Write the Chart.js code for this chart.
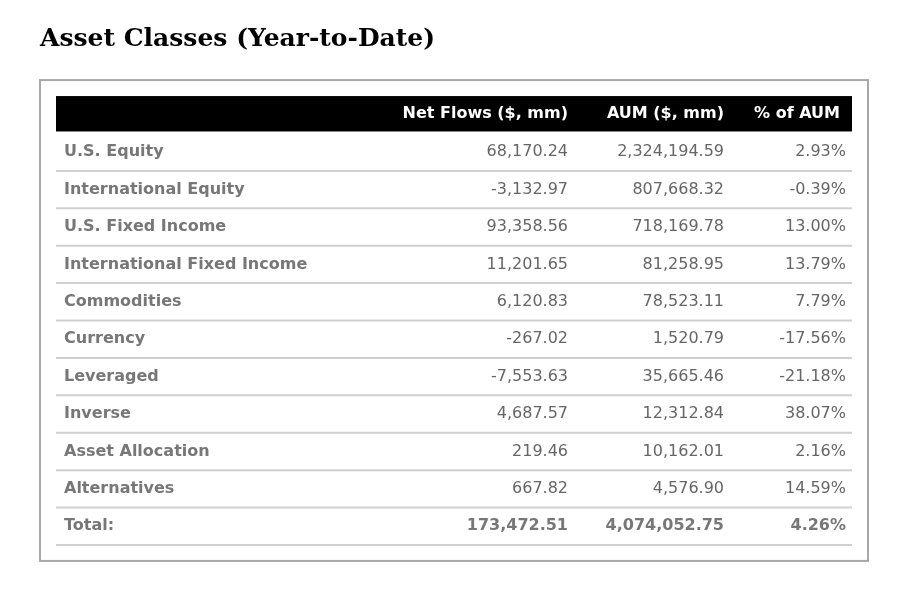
<!DOCTYPE html>
<html><head><meta charset="utf-8">
<script src="https://cdn.jsdelivr.net/npm/chart.js@4"></script>
<style>html,body{margin:0;padding:0;background:#fff}</style>
</head><body>
<canvas id="c" width="918" height="616"></canvas>
<script>
const headers = ["Net Flows ($, mm)", "AUM ($, mm)", "% of AUM"];
const categories = ["U.S. Equity","International Equity","U.S. Fixed Income","International Fixed Income","Commodities","Currency","Leveraged","Inverse","Asset Allocation","Alternatives","Total:"];
const netFlows = ["68,170.24","-3,132.97","93,358.56","11,201.65","6,120.83","-267.02","-7,553.63","4,687.57","219.46","667.82","173,472.51"];
const aum = ["2,324,194.59","807,668.32","718,169.78","81,258.95","78,523.11","1,520.79","35,665.46","12,312.84","10,162.01","4,576.90","4,074,052.75"];
const pctAum = ["2.93%","-0.39%","13.00%","13.79%","7.79%","-17.56%","-21.18%","38.07%","2.16%","14.59%","4.26%"];
const titleText = "Asset Classes (Year-to-Date)";

const F = "'DejaVu Sans', Verdana, sans-serif";
const tablePlugin = {
  id: 'table',
  afterDraw(chart) {
    const ctx = chart.ctx, a = chart.chartArea, y = chart.scales.y;
    ctx.save();
    ctx.fillStyle = '#000'; ctx.font = "bold 25px 'DejaVu Serif', Georgia, serif";
    ctx.textBaseline = 'middle'; ctx.textAlign = 'left';
    ctx.fillText(titleText, 40, 39);
    const rowH = Math.abs(y.getPixelForValue(1) - y.getPixelForValue(0));
    const top = y.getPixelForValue(-0.5), bottom = y.getPixelForValue(11.5);
    ctx.strokeStyle = '#a8a8a8'; ctx.lineWidth = 2;
    ctx.strokeRect(a.left - 16, top - 16, a.right - a.left + 32, bottom - top + 32);
    const colX = [a.left + 512, a.left + 668, a.left + 790];
    const hy = y.getPixelForValue(0);
    ctx.fillStyle = '#000';
    ctx.fillRect(a.left, hy - rowH/2, a.right - a.left, rowH - 2);
    ctx.fillStyle = '#fff'; ctx.font = "bold 16px " + F; ctx.textAlign = 'right';
    headers.forEach((h, i) => ctx.fillText(h, colX[i] - (i===2?6:0), hy - 1));
    categories.forEach((c, r) => {
      const cy = y.getPixelForValue(r + 1);
      const total = r === categories.length - 1;
      ctx.fillStyle = '#777'; ctx.textAlign = 'left'; ctx.font = "bold 16px " + F;
      ctx.fillText(c, a.left + 8, cy);
      ctx.textAlign = 'right';
      ctx.font = (total ? "bold " : "") + "16px " + F;
      ctx.fillStyle = total ? '#777' : '#666';
      [netFlows[r], aum[r], pctAum[r]].forEach((v, i) => ctx.fillText(v, colX[i], cy));
      ctx.strokeStyle = '#cfcfcf'; ctx.lineWidth = 2;
      ctx.beginPath(); ctx.moveTo(a.left, cy + rowH/2); ctx.lineTo(a.right, cy + rowH/2); ctx.stroke();
    });
    ctx.restore();
  }
};
new Chart(document.getElementById('c'), {
  type: 'bar',
  data: { labels: ['', ...categories], datasets: [{ data: [] }] },
  options: {
    responsive: false, animation: false, indexAxis: 'y',
    layout: { padding: { left: 56, right: 66, top: 64, bottom: 39 } },
    plugins: { legend: { display: false }, tooltip: { enabled: false } },
    scales: {
      y: { type: 'linear', min: -0.5, max: 11.5, reverse: true, display: false },
      x: { display: false, min: 0, max: 1 }
    }
  },
  plugins: [tablePlugin]
});
</script>
</body></html>
